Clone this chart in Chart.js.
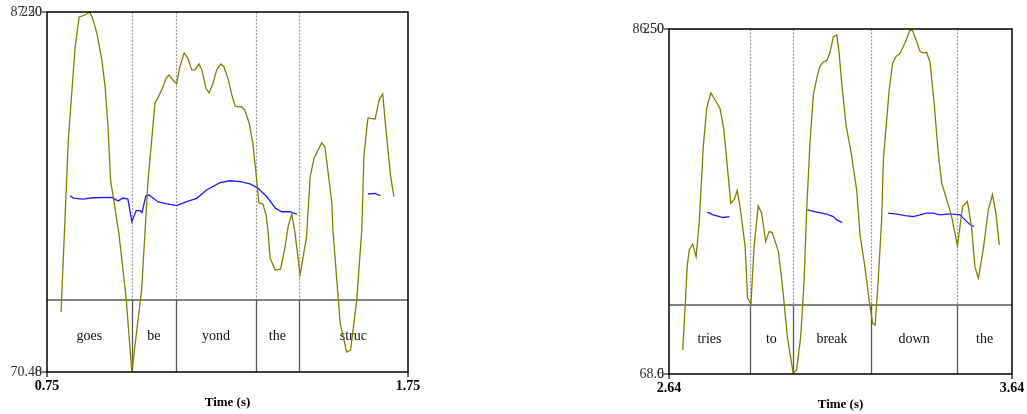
<!DOCTYPE html>
<html>
<head>
<meta charset="utf-8">
<script src="https://cdn.jsdelivr.net/npm/chart.js@4/dist/chart.umd.min.js"></script>
<style>
  body { margin: 0; background: #fff; width: 1027px; height: 414px; position: relative; overflow: hidden; }
  canvas { position: absolute; top: 0; }
  #left { left: 0; }
  #right { left: 620px; }
</style>
</head>
<body>
<canvas id="left" width="440" height="414"></canvas>
<canvas id="right" width="407" height="414"></canvas>
<script>
// ---- left panel: "goes beyond the struc" ----
var leftTimeRange = [0.75, 1.75];
var leftIntensityRange = [70.48, 87.20];
var leftYLabels = ['87.20', '70.48'];
var leftPitchLabels = ['250', '0'];
var leftXLabels = ['0.75', '1.75'];
var leftBoundaries = [0.985, 1.107, 1.329, 1.447];
var leftWords = ['goes', 'be', 'yond', 'the', 'struc'];

var leftIntensityTimes = [0.789, 0.809, 0.828, 0.839, 0.855, 0.869, 0.877, 0.888, 0.902, 0.911, 0.919, 0.926,
  0.949, 0.969, 0.985, 1.012, 1.030, 1.040, 1.049, 1.057, 1.070, 1.080, 1.088, 1.099, 1.109, 1.118, 1.130,
  1.140, 1.151, 1.160, 1.171, 1.179, 1.190, 1.199, 1.210, 1.220, 1.231, 1.240, 1.251, 1.262, 1.271, 1.279,
  1.289, 1.298, 1.310, 1.320, 1.329, 1.337, 1.348, 1.357, 1.362, 1.368, 1.382, 1.397, 1.409, 1.418, 1.428,
  1.437, 1.451, 1.459, 1.469, 1.479, 1.490, 1.501, 1.511, 1.520, 1.528, 1.539, 1.542, 1.562, 1.580, 1.591,
  1.608, 1.622, 1.628, 1.639, 1.659, 1.670, 1.680, 1.689, 1.702, 1.711];
var leftIntensity = [73.27, 81.25, 85.57, 86.97, 87.06, 87.19, 86.87, 86.22, 84.97, 83.72, 81.86, 79.40,
  76.94, 73.96, 70.48, 74.29, 79.40, 81.25, 82.97, 83.21, 83.67, 84.13, 84.27, 84.04, 83.86, 84.65, 85.30,
  85.06, 84.51, 84.51, 84.79, 84.51, 83.67, 83.44, 83.90, 84.51, 84.79, 84.66, 84.13, 83.35, 82.83, 82.79,
  82.80, 82.65, 82.04, 81.12, 79.72, 78.33, 78.28, 77.77, 77.08, 75.78, 75.22, 75.26, 76.24, 77.23, 77.82,
  76.94, 74.99, 75.78, 76.76, 79.55, 80.42, 80.79, 81.12, 80.93, 79.86, 78.33, 77.08, 72.76, 71.41, 71.50,
  73.82, 77.08, 80.56, 82.28, 82.23, 83.11, 83.39, 81.72, 79.55, 78.62];

var leftPitchTimes = [0.814, 0.823, 0.850, 0.877, 0.929, 0.947, 0.961, 0.974, 0.985, 0.997, 1.008, 1.013,
  1.024, 1.033, 1.057, 1.082, 1.109, 1.137, 1.165, 1.192, 1.229, 1.257, 1.285, 1.312, 1.335, 1.359, 1.382,
  1.400, 1.423, 1.442, 1.55, 1.639, 1.659, 1.674];
var leftPitch = [122.4, 120.8, 120.1, 121.0, 121.3, 118.8, 120.8, 120.1, 104.4, 112.0, 112.0, 110.6,
  122.4, 122.9, 118.3, 116.7, 115.5, 118.3, 120.6, 126.4, 131.5, 132.8, 132.2, 130.6, 127.6, 121.7, 113.9,
  111.3, 111.3, 109.7, null, 123.6, 124.1, 122.4];

// ---- right panel: "tries to break down the" ----
var rightTimeRange = [2.64, 3.64];
var rightIntensityRange = [68.6, 86.5];
var rightYLabels = ['86.50', '68.6'];
var rightPitchLabels = ['250', '0'];
var rightXLabels = ['2.64', '3.64'];
var rightBoundaries = [2.876, 3.001, 3.229, 3.480];
var rightWords = ['tries', 'to', 'break', 'down', 'the'];

var rightIntensityTimes = [2.680, 2.687, 2.693, 2.699, 2.709, 2.719, 2.728, 2.740, 2.750, 2.762, 2.774,
  2.789, 2.800, 2.810, 2.820, 2.830, 2.839, 2.847, 2.862, 2.869, 2.879, 2.888, 2.900, 2.910, 2.922, 2.932,
  2.941, 2.959, 2.971, 2.985, 3.002, 3.012, 3.024, 3.034, 3.041, 3.051, 3.061, 3.071, 3.080, 3.090, 3.100,
  3.109, 3.119, 3.129, 3.136, 3.144, 3.156, 3.171, 3.187, 3.197, 3.211, 3.226, 3.234, 3.241, 3.250, 3.260,
  3.265, 3.282, 3.292, 3.302, 3.313, 3.328, 3.343, 3.350, 3.360, 3.372, 3.381, 3.391, 3.401, 3.413, 3.425,
  3.435, 3.450, 3.464, 3.481, 3.496, 3.510, 3.522, 3.532, 3.542, 3.556, 3.571, 3.583, 3.593, 3.603];
var rightIntensity = [69.85, 72.09, 74.17, 75.04, 75.35, 74.68, 76.44, 80.40, 82.41, 83.18, 82.83,
  82.36, 81.27, 79.37, 77.46, 77.64, 78.12, 77.29, 75.21, 72.55, 72.24, 75.21, 77.32, 76.96, 75.47, 75.99,
  75.94, 74.95, 73.13, 70.54, 68.64, 68.81, 70.54, 73.48, 76.96, 80.60, 83.09, 83.96, 84.56, 84.79, 84.87,
  85.25, 86.09, 86.20, 85.25, 83.61, 81.53, 80.08, 78.16, 75.82, 74.17, 72.09, 71.23, 71.14, 73.48, 76.60,
  79.71, 83.35, 84.73, 85.08, 85.22, 85.77, 86.46, 86.41, 85.94, 85.34, 85.25, 85.29, 84.77, 82.66, 80.06,
  78.50, 77.64, 76.77, 75.25, 77.29, 77.55, 76.25, 74.17, 73.57, 75.04, 77.12, 77.90, 76.95, 75.30];

var rightPitchTimes = [2.752, 2.769, 2.798, 2.816, 2.93, 3.043, 3.071, 3.100, 3.119, 3.129, 3.145, 3.21,
  3.279, 3.304, 3.328, 3.352, 3.372, 3.391, 3.411, 3.430, 3.450, 3.469, 3.488, 3.503, 3.518, 3.529];
var rightPitch = [117.3, 115.3, 113.4, 114.1, null, 118.9, 117.3, 115.8, 114.1, 111.7, 109.7, null,
  116.6, 115.8, 114.8, 114.1, 115.3, 116.6, 116.6, 115.3, 115.8, 115.8, 115.3, 111.7, 108.1, 106.8];

// ---- drawing ----
var serif = '"Liberation Serif", "Times New Roman", serif';
var tierFraction = 0.2;

function pts(xs, ys) {
  return xs.map(function(x, i) { return {x: x, y: ys[i]}; });
}

function praatPlugin(p) {
  return {
    id: 'praat',
    beforeDatasetsDraw: function(chart) {
      var ctx = chart.ctx, a = chart.chartArea, xs = chart.scales.x;
      var tierTop = a.bottom - (a.bottom - a.top) * tierFraction;
      ctx.save();
      // interval boundaries
      p.boundaries.forEach(function(t) {
        var x = Math.round(xs.getPixelForValue(t)) + 0.5;
        ctx.strokeStyle = '#9a9a9a';
        ctx.lineWidth = 1.2;
        ctx.setLineDash([2, 1.5]);
        ctx.beginPath(); ctx.moveTo(x, a.top); ctx.lineTo(x, tierTop); ctx.stroke();
        ctx.setLineDash([]);
        ctx.strokeStyle = '#5a5a5a';
        ctx.lineWidth = 1.3;
        ctx.beginPath(); ctx.moveTo(x, tierTop); ctx.lineTo(x, a.bottom); ctx.stroke();
      });
      ctx.strokeStyle = '#5a5a5a';
      ctx.lineWidth = 1.3;
      ctx.beginPath(); ctx.moveTo(a.left, tierTop); ctx.lineTo(a.right, tierTop); ctx.stroke();
      // words
      var edges = [xs.min].concat(p.boundaries, [xs.max]);
      ctx.fillStyle = '#111';
      ctx.font = '14px ' + serif;
      ctx.textAlign = 'center';
      ctx.textBaseline = 'middle';
      p.words.forEach(function(w, i) {
        var x = (xs.getPixelForValue(edges[i]) + xs.getPixelForValue(edges[i + 1])) / 2;
        ctx.fillText(w, x, (tierTop + a.bottom) / 2);
      });
      ctx.restore();
    },
    afterDraw: function(chart) {
      var ctx = chart.ctx, a = chart.chartArea;
      ctx.save();
      ctx.strokeStyle = '#000';
      ctx.lineWidth = 1.5;
      ctx.strokeRect(a.left, a.top, a.right - a.left, a.bottom - a.top);
      // tick marks
      ctx.lineWidth = 1.2;
      ctx.beginPath();
      ctx.moveTo(a.left - 5, a.top); ctx.lineTo(a.left, a.top);
      ctx.moveTo(a.left - 5, a.bottom); ctx.lineTo(a.left, a.bottom);
      ctx.moveTo(a.left, a.bottom); ctx.lineTo(a.left, a.bottom + 5);
      ctx.moveTo(a.right, a.bottom); ctx.lineTo(a.right, a.bottom + 5);
      ctx.stroke();
      // y labels (intensity and pitch share the left edge)
      ctx.font = '14px ' + serif;
      ctx.fillStyle = '#333';
      ctx.textAlign = 'right';
      ctx.textBaseline = 'middle';
      [p.yLabels, p.pitchLabels].forEach(function(lbl) {
        ctx.fillText(lbl[0], a.left - 5, a.top);
        ctx.fillText(lbl[1], a.left - 5, a.bottom);
      });
      // x labels
      ctx.fillStyle = '#000';
      ctx.font = 'bold 14px ' + serif;
      ctx.textAlign = 'center';
      ctx.fillText(p.xLabels[0], a.left, a.bottom + 14);
      ctx.fillText(p.xLabels[1], a.right, a.bottom + 14);
      ctx.font = 'bold 13px ' + serif;
      ctx.fillText('Time (s)', (a.left + a.right) / 2, a.bottom + 31);
      ctx.restore();
    }
  };
}

function makePanel(id, p) {
  var ctx = document.getElementById(id).getContext('2d');
  return new Chart(ctx, {
    type: 'line',
    data: {
      datasets: [{
        data: pts(p.intensityTimes, p.intensity),
        borderColor: '#808000',
        borderWidth: 1.3,
        pointRadius: 0,
        tension: 0,
        fill: false,
        yAxisID: 'y'
      }, {
        data: pts(p.pitchTimes, p.pitch),
        borderColor: '#1c1cff',
        borderWidth: 1.3,
        pointRadius: 0,
        tension: 0,
        fill: false,
        spanGaps: false,
        yAxisID: 'y2'
      }]
    },
    options: {
      responsive: false,
      animation: false,
      events: [],
      layout: { padding: p.padding },
      plugins: { legend: { display: false }, tooltip: { enabled: false } },
      scales: {
        x: { type: 'linear', min: p.timeRange[0], max: p.timeRange[1], display: false },
        y: { min: p.intensityRange[0], max: p.intensityRange[1], display: false },
        y2: { min: 0, max: 250, display: false }
      }
    },
    plugins: [praatPlugin(p)]
  });
}

window.onload = function() {
  makePanel('left', {
    timeRange: leftTimeRange, intensityRange: leftIntensityRange,
    intensityTimes: leftIntensityTimes, intensity: leftIntensity,
    pitchTimes: leftPitchTimes, pitch: leftPitch,
    boundaries: leftBoundaries, words: leftWords,
    yLabels: leftYLabels, pitchLabels: leftPitchLabels, xLabels: leftXLabels,
    padding: { left: 47, top: 12, right: 32, bottom: 42 }
  });
  makePanel('right', {
    timeRange: rightTimeRange, intensityRange: rightIntensityRange,
    intensityTimes: rightIntensityTimes, intensity: rightIntensity,
    pitchTimes: rightPitchTimes, pitch: rightPitch,
    boundaries: rightBoundaries, words: rightWords,
    yLabels: rightYLabels, pitchLabels: rightPitchLabels, xLabels: rightXLabels,
    padding: { left: 49, top: 29, right: 15, bottom: 40 }
  });
};
</script>
</body>
</html>
